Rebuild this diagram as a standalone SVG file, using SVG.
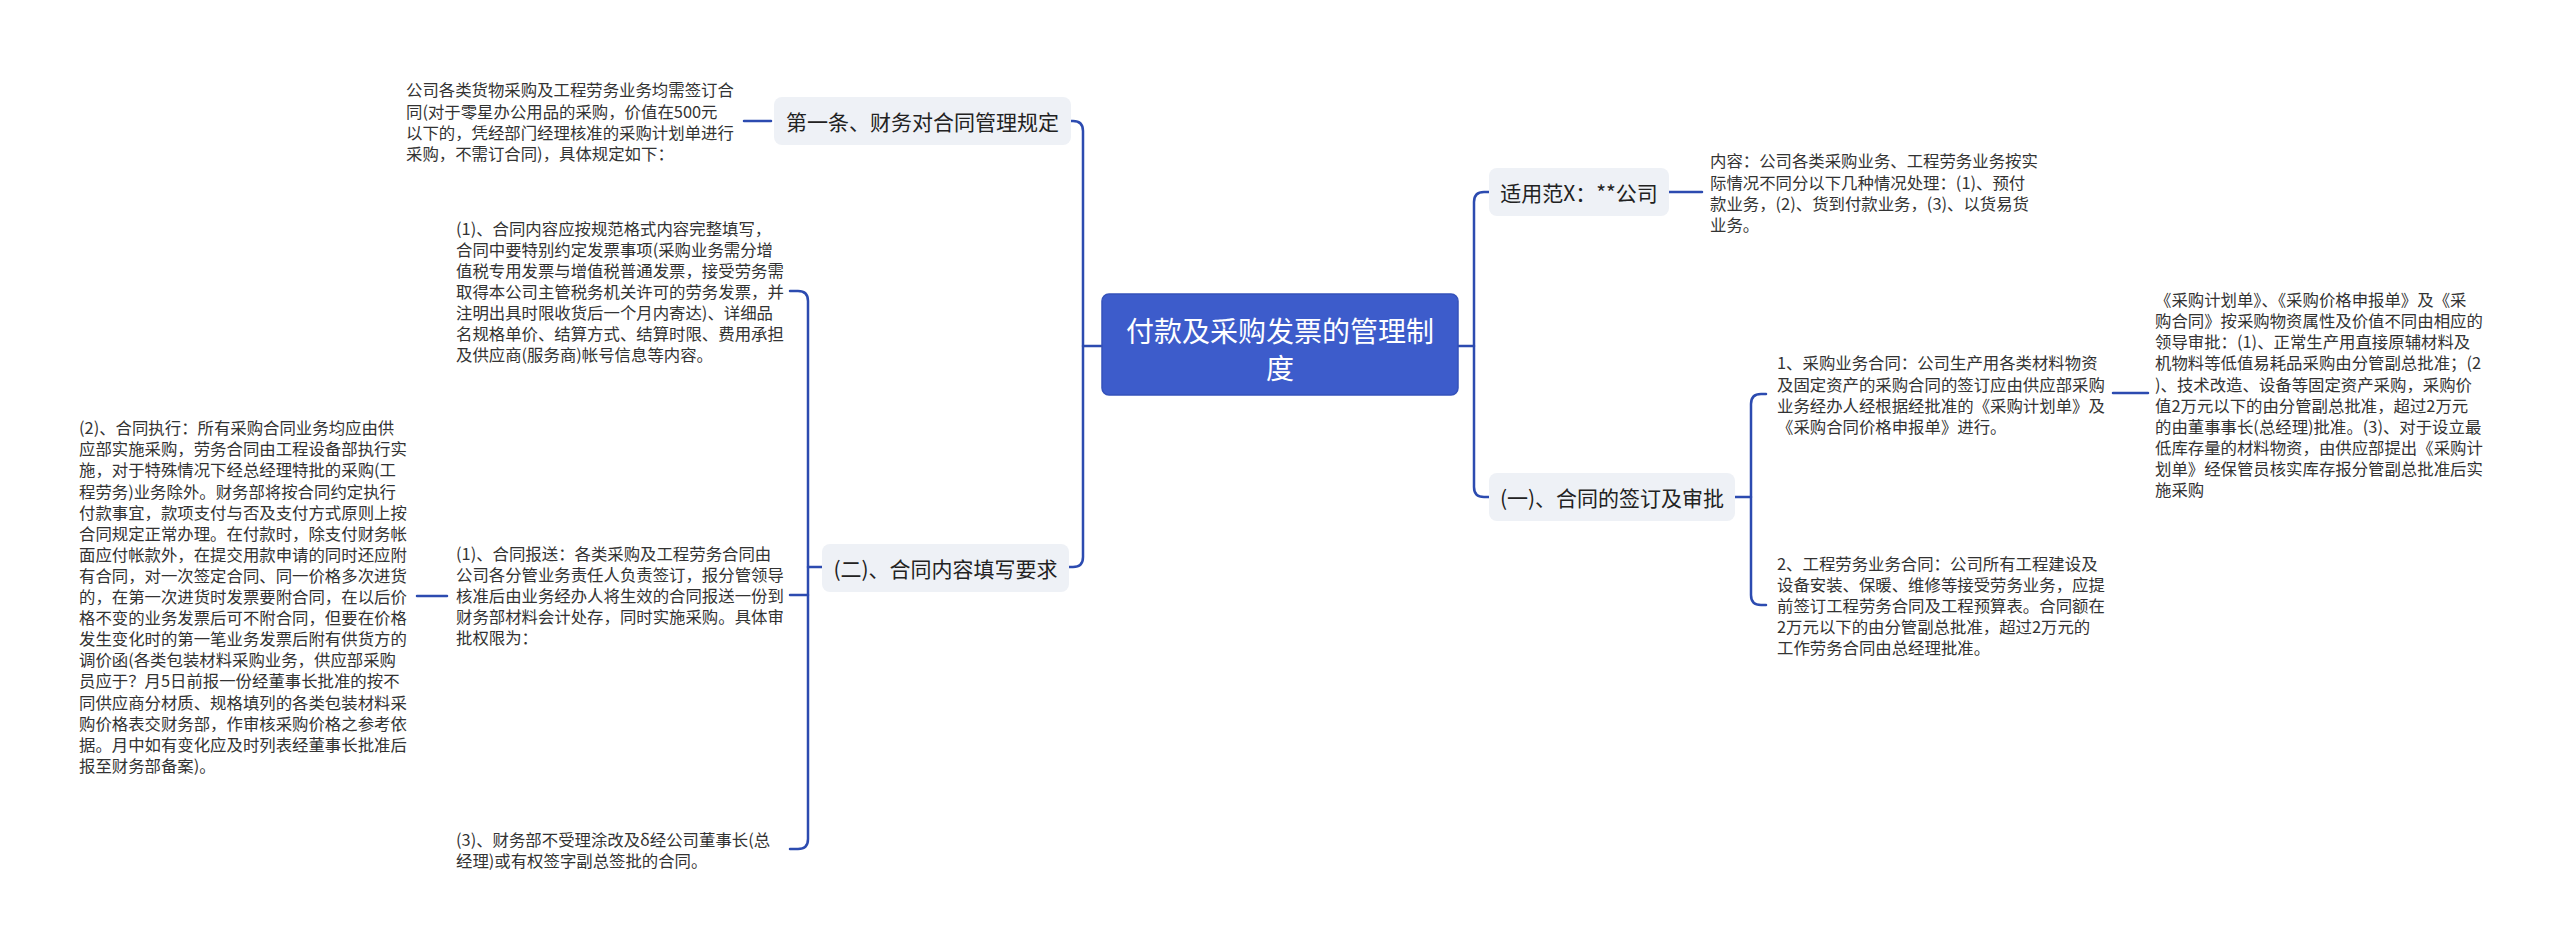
<svg xmlns="http://www.w3.org/2000/svg" width="2560" height="948" viewBox="0 0 2560 948">
<style>
.t{font-family:"Noto Sans CJK SC","Liberation Sans",sans-serif;font-size:16.4px;fill:#333;dominant-baseline:central}
.bt{font-family:"Noto Sans CJK SC","Liberation Sans",sans-serif;font-size:21px;fill:#222;dominant-baseline:central;text-anchor:middle}
.rt{font-family:"Noto Sans CJK SC","Liberation Sans",sans-serif;font-size:28px;fill:#fff;dominant-baseline:central;text-anchor:middle}
.box{fill:#eef1f6}
.c{fill:none;stroke:#2c4bb0;stroke-width:2.5;stroke-linecap:round}
</style>
<rect width="2560" height="948" fill="#fff"/>
<g id="connectors">
<path class="c" d="M1102,346 H1083"/>
<path class="c" d="M1071,121 H1073 Q1083,121 1083,131 V557 Q1083,567 1073,567 H1069"/>
<path class="c" d="M1458,346 H1474"/>
<path class="c" d="M1489,192 H1484 Q1474,192 1474,202 V487 Q1474,497 1484,497 H1489"/>
<path class="c" d="M744,121 H771"/>
<path class="c" d="M822,567 H808"/>
<path class="c" d="M790,291 H798 Q808,291 808,301 V839 Q808,849 798,849 H790"/>
<path class="c" d="M790,595 H808"/>
<path class="c" d="M417,596 H447"/>
<path class="c" d="M1669,192 H1702"/>
<path class="c" d="M1735,497 H1751"/>
<path class="c" d="M1766,394 H1761 Q1751,394 1751,404 V595 Q1751,605 1761,605 H1766"/>
<path class="c" d="M2113,393 H2148"/>
</g>
<g id="root">
<rect x="1102" y="294" width="356" height="101" rx="7" fill="#3d5ccb" stroke="#3452bb" stroke-width="1.5"/>
<text class="rt" x="1280" y="330">付款及采购发票的管理制</text>
<text class="rt" x="1280" y="367">度</text>
</g>
<g id="n1">
<rect class="box" x="774" y="97" width="297" height="48" rx="8"/>
<text class="bt" x="922.5" y="121">第一条、财务对合同管理规定</text>
</g>
<g id="n1a">
<text class="t" x="406" y="89.4">公司各类货物采购及工程劳务业务均需签订合</text>
<text class="t" x="406" y="110.5">同(对于零星办公用品的采购，价值在500元</text>
<text class="t" x="406" y="131.6">以下的，凭经部门经理核准的采购计划单进行</text>
<text class="t" x="406" y="152.7">采购，不需订合同)，具体规定如下：</text>
</g>
<g id="n2">
<rect class="box" x="822" y="544" width="247" height="48" rx="8"/>
<text class="bt" x="945.5" y="568">(二)、合同内容填写要求</text>
</g>
<g id="n2a">
<text class="t" x="456" y="227.7">(1)、合同内容应按规范格式内容完整填写，</text>
<text class="t" x="456" y="248.8">合同中要特别约定发票事项(采购业务需分增</text>
<text class="t" x="456" y="269.9">值税专用发票与增值税普通发票，接受劳务需</text>
<text class="t" x="456" y="291">取得本公司主管税务机关许可的劳务发票，并</text>
<text class="t" x="456" y="312.1">注明出具时限收货后一个月内寄达)、详细品</text>
<text class="t" x="456" y="333.2">名规格单价、结算方式、结算时限、费用承担</text>
<text class="t" x="456" y="354.3">及供应商(服务商)帐号信息等内容。</text>
</g>
<g id="n2b">
<text class="t" x="456" y="552.8">(1)、合同报送：各类采购及工程劳务合同由</text>
<text class="t" x="456" y="573.9">公司各分管业务责任人负责签订，报分管领导</text>
<text class="t" x="456" y="595">核准后由业务经办人将生效的合同报送一份到</text>
<text class="t" x="456" y="616.1">财务部材料会计处存，同时实施采购。具体审</text>
<text class="t" x="456" y="637.2">批权限为：</text>
</g>
<g id="n2b1">
<text class="t" x="79" y="427.2">(2)、合同执行：所有采购合同业务均应由供</text>
<text class="t" x="79" y="448.3">应部实施采购，劳务合同由工程设备部执行实</text>
<text class="t" x="79" y="469.4">施，对于特殊情况下经总经理特批的采购(工</text>
<text class="t" x="79" y="490.5">程劳务)业务除外。财务部将按合同约定执行</text>
<text class="t" x="79" y="511.6">付款事宜，款项支付与否及支付方式原则上按</text>
<text class="t" x="79" y="532.7">合同规定正常办理。在付款时，除支付财务帐</text>
<text class="t" x="79" y="553.8">面应付帐款外，在提交用款申请的同时还应附</text>
<text class="t" x="79" y="574.9">有合同，对一次签定合同、同一价格多次进货</text>
<text class="t" x="79" y="596">的，在第一次进货时发票要附合同，在以后价</text>
<text class="t" x="79" y="617.1">格不变的业务发票后可不附合同，但要在价格</text>
<text class="t" x="79" y="638.2">发生变化时的第一笔业务发票后附有供货方的</text>
<text class="t" x="79" y="659.3">调价函(各类包装材料采购业务，供应部采购</text>
<text class="t" x="79" y="680.4">员应于？月5日前报一份经董事长批准的按不</text>
<text class="t" x="79" y="701.5">同供应商分材质、规格填列的各类包装材料采</text>
<text class="t" x="79" y="722.6">购价格表交财务部，作审核采购价格之参考依</text>
<text class="t" x="79" y="743.7">据。月中如有变化应及时列表经董事长批准后</text>
<text class="t" x="79" y="764.8">报至财务部备案)。</text>
</g>
<g id="n2c">
<text class="t" x="456" y="838.5">(3)、财务部不受理涂改及δ经公司董事长(总</text>
<text class="t" x="456" y="859.6">经理)或有权签字副总签批的合同。</text>
</g>
<g id="n3">
<rect class="box" x="1489" y="168" width="180" height="48" rx="8"/>
<text class="bt" x="1579" y="192">适用范X：**公司</text>
</g>
<g id="n3a">
<text class="t" x="1710" y="160.4">内容：公司各类采购业务、工程劳务业务按实</text>
<text class="t" x="1710" y="181.5">际情况不同分以下几种情况处理：(1)、预付</text>
<text class="t" x="1710" y="202.6">款业务，(2)、货到付款业务，(3)、以货易货</text>
<text class="t" x="1710" y="223.7">业务。</text>
</g>
<g id="n4">
<rect class="box" x="1489" y="473" width="246" height="48" rx="8"/>
<text class="bt" x="1612" y="497">(一)、合同的签订及审批</text>
</g>
<g id="n4a">
<text class="t" x="1777" y="362.4">1、采购业务合同：公司生产用各类材料物资</text>
<text class="t" x="1777" y="383.5">及固定资产的采购合同的签订应由供应部采购</text>
<text class="t" x="1777" y="404.6">业务经办人经根据经批准的《采购计划单》及</text>
<text class="t" x="1777" y="425.7">《采购合同价格申报单》进行。</text>
</g>
<g id="n4a1">
<text class="t" x="2155" y="299.1">《采购计划单》、《采购价格申报单》及《采</text>
<text class="t" x="2155" y="320.2">购合同》按采购物资属性及价值不同由相应的</text>
<text class="t" x="2155" y="341.3">领导审批：(1)、正常生产用直接原辅材料及</text>
<text class="t" x="2155" y="362.4">机物料等低值易耗品采购由分管副总批准；(2</text>
<text class="t" x="2155" y="383.5">)、技术改造、设备等固定资产采购，采购价</text>
<text class="t" x="2155" y="404.6">值2万元以下的由分管副总批准，超过2万元</text>
<text class="t" x="2155" y="425.7">的由董事事长(总经理)批准。(3)、对于设立最</text>
<text class="t" x="2155" y="446.8">低库存量的材料物资，由供应部提出《采购计</text>
<text class="t" x="2155" y="467.9">划单》经保管员核实库存报分管副总批准后实</text>
<text class="t" x="2155" y="489">施采购</text>
</g>
<g id="n4b">
<text class="t" x="1777" y="562.8">2、工程劳务业务合同：公司所有工程建设及</text>
<text class="t" x="1777" y="583.9">设备安装、保暖、维修等接受劳务业务，应提</text>
<text class="t" x="1777" y="605">前签订工程劳务合同及工程预算表。合同额在</text>
<text class="t" x="1777" y="626.1">2万元以下的由分管副总批准，超过2万元的</text>
<text class="t" x="1777" y="647.2">工作劳务合同由总经理批准。</text>
</g>
</svg>
